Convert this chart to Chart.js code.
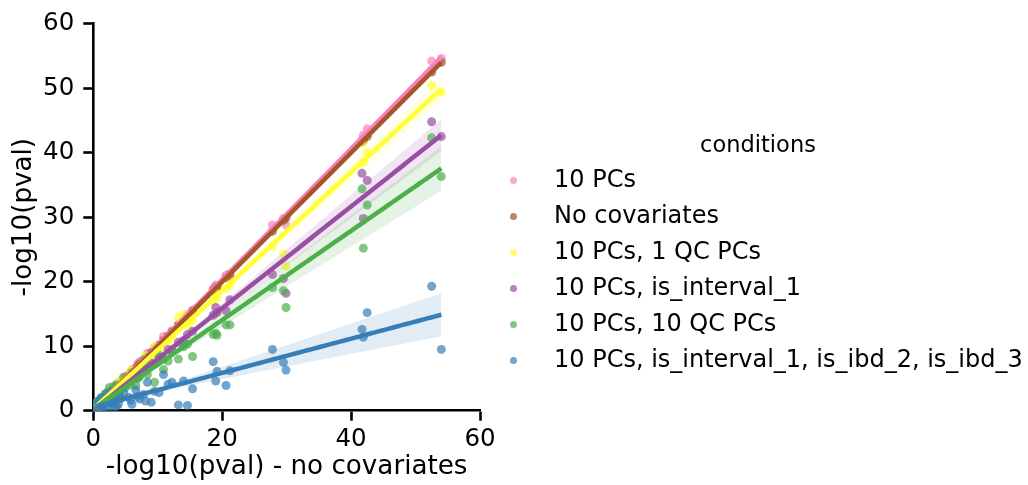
<!DOCTYPE html>
<html>
<head>
<meta charset="utf-8">
<script src="https://cdn.jsdelivr.net/npm/chart.js@4/dist/chart.umd.min.js"></script>
<style>
  html, body { margin: 0; padding: 0; background: #fff; }
  #wrap { position: relative; width: 1028px; height: 485px; overflow: hidden;
          font-family: "DejaVu Sans", sans-serif; color: #000; }
  #c { position: absolute; left: 0; top: 0; }
  .lg-text { position: absolute; white-space: nowrap; }
  .lg-dot { position: absolute; width: 7px; height: 7px; border-radius: 50%; }
</style>
</head>
<body>
<div id="wrap">
  <canvas id="c" width="1028" height="485"></canvas>
  <div id="legend"></div>
</div>
<script>
// Condition names, in plotting order
const conditions = [
  "10 PCs",
  "No covariates",
  "10 PCs, 1 QC PCs",
  "10 PCs, is_interval_1",
  "10 PCs, 10 QC PCs",
  "10 PCs, is_interval_1, is_ibd_2, is_ibd_3"
];
const palette = ["#f781bf", "#a65628", "#ffff33", "#984ea3", "#4daf4a", "#377eb8"];

// -log10(pval) with no covariates (x for every condition)
const noCovX = [0.3, 0.4, 0.5, 0.7, 0.8, 0.9, 1.1, 1.2, 1.3, 1.5, 1.6, 1.8, 2.0, 2.2, 2.4, 2.5, 2.8, 3.0, 3.2, 3.3,
  3.6, 3.9, 4.0, 4.3, 4.7, 5.0, 5.5, 5.8, 6.0, 6.6, 6.9, 7.2, 7.8, 8.1, 8.4, 9.0, 9.5, 10.2, 10.9, 11.6,
  12.2, 13.2, 14.0, 14.6, 15.4, 18.6, 19.0, 19.2, 20.6, 21.2, 27.8, 29.5, 29.9, 41.7, 41.9, 42.5, 52.5, 54.0];

// -log10(pval) under each condition
const y10PCs = [0.4, 0.6, 0.8, 0.6, 0.9, 1.2, 1.0, 1.5, 1.6, 1.4, 1.9, 2.0, 2.2, 2.1, 2.5, 2.8, 2.7, 3.3, 3.5, 3.2,
  4.1, 4.3, 3.9, 4.6, 4.6, 5.3, 5.4, 6.0, 6.4, 6.5, 7.3, 7.6, 7.7, 8.0, 8.9, 9.0, 9.8, 10.1, 11.5, 11.5,
  12.4, 13.4, 14.2, 14.9, 15.6, 18.9, 19.5, 19.3, 21.0, 20.9, 28.8, 29.8, 28.8, 42.0, 42.7, 43.7, 54.2, 54.6];
const yNoCov = [0.3, 0.4, 0.5, 0.7, 0.8, 0.9, 1.1, 1.2, 1.3, 1.5, 1.6, 1.8, 2.0, 2.2, 2.4, 2.5, 2.8, 3.0, 3.2, 3.3,
  3.6, 3.9, 4.0, 4.3, 4.7, 5.0, 5.5, 5.8, 6.0, 6.6, 6.9, 7.2, 7.8, 8.1, 8.4, 9.0, 9.5, 10.2, 10.9, 11.6,
  12.2, 13.2, 14.0, 14.6, 15.4, 18.6, 19.0, 19.2, 20.6, 21.2, 27.8, 29.5, 29.9, 41.7, 41.9, 42.5, 52.5, 54.0];
const y1QC = [0.5, 0.7, 0.7, 0.9, 1.0, 1.0, 1.4, 1.0, 1.2, 1.6, 1.8, 1.9, 2.1, 2.0, 2.8, 2.6, 2.5, 3.1, 3.0, 3.4,
  3.2, 3.8, 4.6, 4.0, 4.8, 4.7, 5.3, 6.2, 5.4, 6.4, 6.4, 6.5, 7.6, 8.5, 7.9, 8.5, 10.0, 9.3, 10.4, 10.6,
  11.5, 14.4, 14.9, 13.2, 14.0, 17.0, 18.2, 17.5, 19.0, 19.5, 25.5, 24.3, 22.4, 41.5, 38.5, 40.0, 50.4, 49.4];
const yInterval = [0.6, 0.5, 0.8, 0.5, 0.7, 1.2, 1.1, 1.1, 1.4, 1.7, 1.4, 1.5, 1.9, 2.3, 2.1, 2.0, 2.7, 2.6, 2.7, 3.0,
  2.9, 3.0, 3.5, 3.9, 3.7, 4.3, 4.6, 4.8, 5.1, 5.0, 5.6, 6.0, 6.2, 6.5, 6.9, 7.4, 7.2, 8.3, 8.0, 9.5,
  9.4, 10.6, 10.9, 11.8, 12.3, 14.8, 16.0, 15.2, 15.5, 17.2, 21.1, 20.5, 18.2, 36.8, 29.8, 35.7, 44.8, 42.5];
const y10QC = [0.8, 1.2, 0.4, 1.5, 0.3, 0.6, 1.8, 2.0, 0.9, 1.2, 1.0, 2.6, 1.1, 2.9, 1.5, 3.6, 1.9, 2.4, 3.8, 3.2,
  4.0, 2.2, 2.5, 3.3, 5.2, 3.6, 4.4, 4.0, 5.9, 3.9, 5.0, 5.3, 7.9, 6.9, 5.6, 7.0, 4.4, 8.6, 6.4, 7.7,
  9.2, 8.0, 9.9, 10.3, 8.4, 11.8, 12.0, 11.7, 13.3, 13.3, 19.1, 18.6, 16.0, 34.4, 25.2, 31.9, 42.3, 36.3];
const yIbd = [0.4, 0.3, 0.9, 0.2, 0.2, 1.5, 0.6, 0.9, 2.0, 0.8, 0.4, 1.2, 2.6, 0.5, 1.3, 1.7, 3.0, 1.1, 0.5, 2.4,
  0.7, 1.0, 3.5, 1.9, 2.8, 4.0, 2.1, 1.6, 1.0, 3.2, 2.2, 1.8, 2.5, 1.5, 4.4, 1.3, 3.0, 2.8, 5.6, 4.1,
  4.4, 0.9, 4.6, 0.8, 3.4, 7.6, 4.6, 6.1, 3.9, 6.2, 9.5, 7.5, 6.3, 12.6, 11.4, 15.2, 19.3, 9.5];

const seriesY = [y10PCs, yNoCov, y1QC, yInterval, y10QC, yIbd];

// Axis ticks
const xTicks = [0, 20, 40, 60];
const yTicks = [0, 10, 20, 30, 40, 50, 60];

function rgba(hex, a) {
  const n = parseInt(hex.slice(1), 16);
  return `rgba(${(n >> 16) & 255},${(n >> 8) & 255},${n & 255},${a})`;
}

// Least-squares fit with a robust (HC2) 95% band for the fitted mean
function regression(xs, ys) {
  const n = xs.length;
  const mx = xs.reduce((s, v) => s + v, 0) / n;
  const my = ys.reduce((s, v) => s + v, 0) / n;
  let sxx = 0, sxy = 0;
  for (let i = 0; i < n; i++) { sxx += (xs[i] - mx) ** 2; sxy += (xs[i] - mx) * (ys[i] - my); }
  const b = sxy / sxx;
  let vc = 0, vb = 0, cv = 0;
  for (let i = 0; i < n; i++) {
    const d = xs[i] - mx;
    const e = ys[i] - (my + b * d);
    const h = 1 / n + d * d / sxx;
    const w = e * e / (1 - h);
    vc += w / (n * n); vb += w * d * d / (sxx * sxx); cv += w * d / (n * sxx);
  }
  const lo = Math.min(...xs), hi = Math.max(...xs);
  const fit = [], upper = [], lower = [];
  for (let k = 0; k < 100; k++) {
    const x = lo + (hi - lo) * k / 99;
    const d = x - mx;
    const yhat = my + b * d;
    const se = Math.sqrt(Math.max(vc + d * d * vb + 2 * d * cv, 0));
    fit.push({ x, y: yhat });
    upper.push({ x, y: yhat + 1.96 * se });
    lower.push({ x, y: yhat - 1.96 * se });
  }
  return { fit, upper, lower };
}

const datasets = [];
const nS = conditions.length;
conditions.forEach((name, i) => {
  const col = palette[i];
  const ys = seriesY[i];
  const reg = regression(noCovX, ys);
  // scatter and band share the lower layer in plotting order; fitted lines sit above
  const base = 100 + (nS - i) * 3;
  datasets.push({
    type: 'scatter', label: name,
    data: noCovX.map((x, j) => ({ x, y: ys[j] })),
    backgroundColor: rgba(col, 0.7), borderWidth: 0,
    pointRadius: 4.5, pointHoverRadius: 4.5, order: base + 2
  });
  datasets.push({
    type: 'line', label: name + ' lo', data: reg.lower, showLine: true,
    borderWidth: 0, borderColor: 'rgba(0,0,0,0)', pointRadius: 0, pointHoverRadius: 0,
    fill: false, order: base + 1
  });
  datasets.push({
    type: 'line', label: name + ' hi', data: reg.upper, showLine: true,
    borderWidth: 0, borderColor: 'rgba(0,0,0,0)', pointRadius: 0, pointHoverRadius: 0,
    fill: '-1', backgroundColor: rgba(col, 0.15), order: base
  });
  datasets.push({
    type: 'line', label: name + ' fit', data: reg.fit, showLine: true,
    borderColor: col, borderWidth: 4.5, pointRadius: 0, pointHoverRadius: 0,
    fill: false, order: nS - i, borderCapStyle: 'butt'
  });
});

const tickFont = { family: 'DejaVu Sans', size: 24.5 };
const titleFont = { family: 'DejaVu Sans', size: 26.2 };

new Chart(document.getElementById('c'), {
  type: 'scatter',
  data: { datasets },
  options: {
    responsive: false, animation: false, devicePixelRatio: 1, events: [],
    layout: { padding: { top: 20, right: 548, left: 0, bottom: 0 } },
    plugins: { legend: { display: false }, tooltip: { enabled: false } },
    scales: {
      x: {
        type: 'linear', min: 0, max: 60,
        afterFit: s => { s.height = 74.3; },
        afterBuildTicks: s => { s.ticks = xTicks.map(v => ({ value: v })); },
        ticks: { font: tickFont, color: '#000', padding: 4.4, maxRotation: 0 },
        grid: { display: true, drawOnChartArea: false, drawTicks: true, tickLength: 10, tickWidth: 2.6, tickColor: '#000' },
        border: { display: true, color: '#000', width: 2.6 },
        title: { display: true, text: '-log10(pval) - no covariates', font: titleFont, color: '#000', padding: { top: 0, bottom: 2.4 } }
      },
      y: {
        type: 'linear', min: 0, max: 60,
        afterFit: s => { s.width = 93.3; },
        afterBuildTicks: s => { s.ticks = yTicks.map(v => ({ value: v })); },
        ticks: { font: tickFont, color: '#000', padding: 9 },
        grid: { display: true, drawOnChartArea: false, drawTicks: true, tickLength: 10, tickWidth: 2.6, tickColor: '#000' },
        border: { display: true, color: '#000', width: 2.6 },
        title: { display: true, text: '-log10(pval)', font: titleFont, color: '#000', padding: { top: 8.2, bottom: 0 } }
      }
    }
  }
});

// Legend on the right
const legend = document.getElementById('legend');
const fs = 24;
const title = document.createElement('div');
title.className = 'lg-text';
title.textContent = 'conditions';
title.style.fontSize = '22.5px';
title.style.lineHeight = '22.5px';
title.style.left = '758px';
title.style.transform = 'translateX(-50%)';
title.style.top = (152.3 - 0.846 * 22.5) + 'px';
legend.appendChild(title);
conditions.forEach((name, i) => {
  const baseline = 187.7 + 36 * i;
  const dot = document.createElement('div');
  dot.className = 'lg-dot';
  dot.style.background = rgba(palette[i], 0.7);
  dot.style.left = '509.5px';
  dot.style.top = (baseline - 7.5 - 3.5) + 'px';
  legend.appendChild(dot);
  const t = document.createElement('div');
  t.className = 'lg-text';
  t.textContent = name;
  t.style.fontSize = fs + 'px';
  t.style.lineHeight = fs + 'px';
  t.style.left = '554px';
  t.style.top = (baseline - 0.846 * fs) + 'px';
  legend.appendChild(t);
});
</script>
</body>
</html>
